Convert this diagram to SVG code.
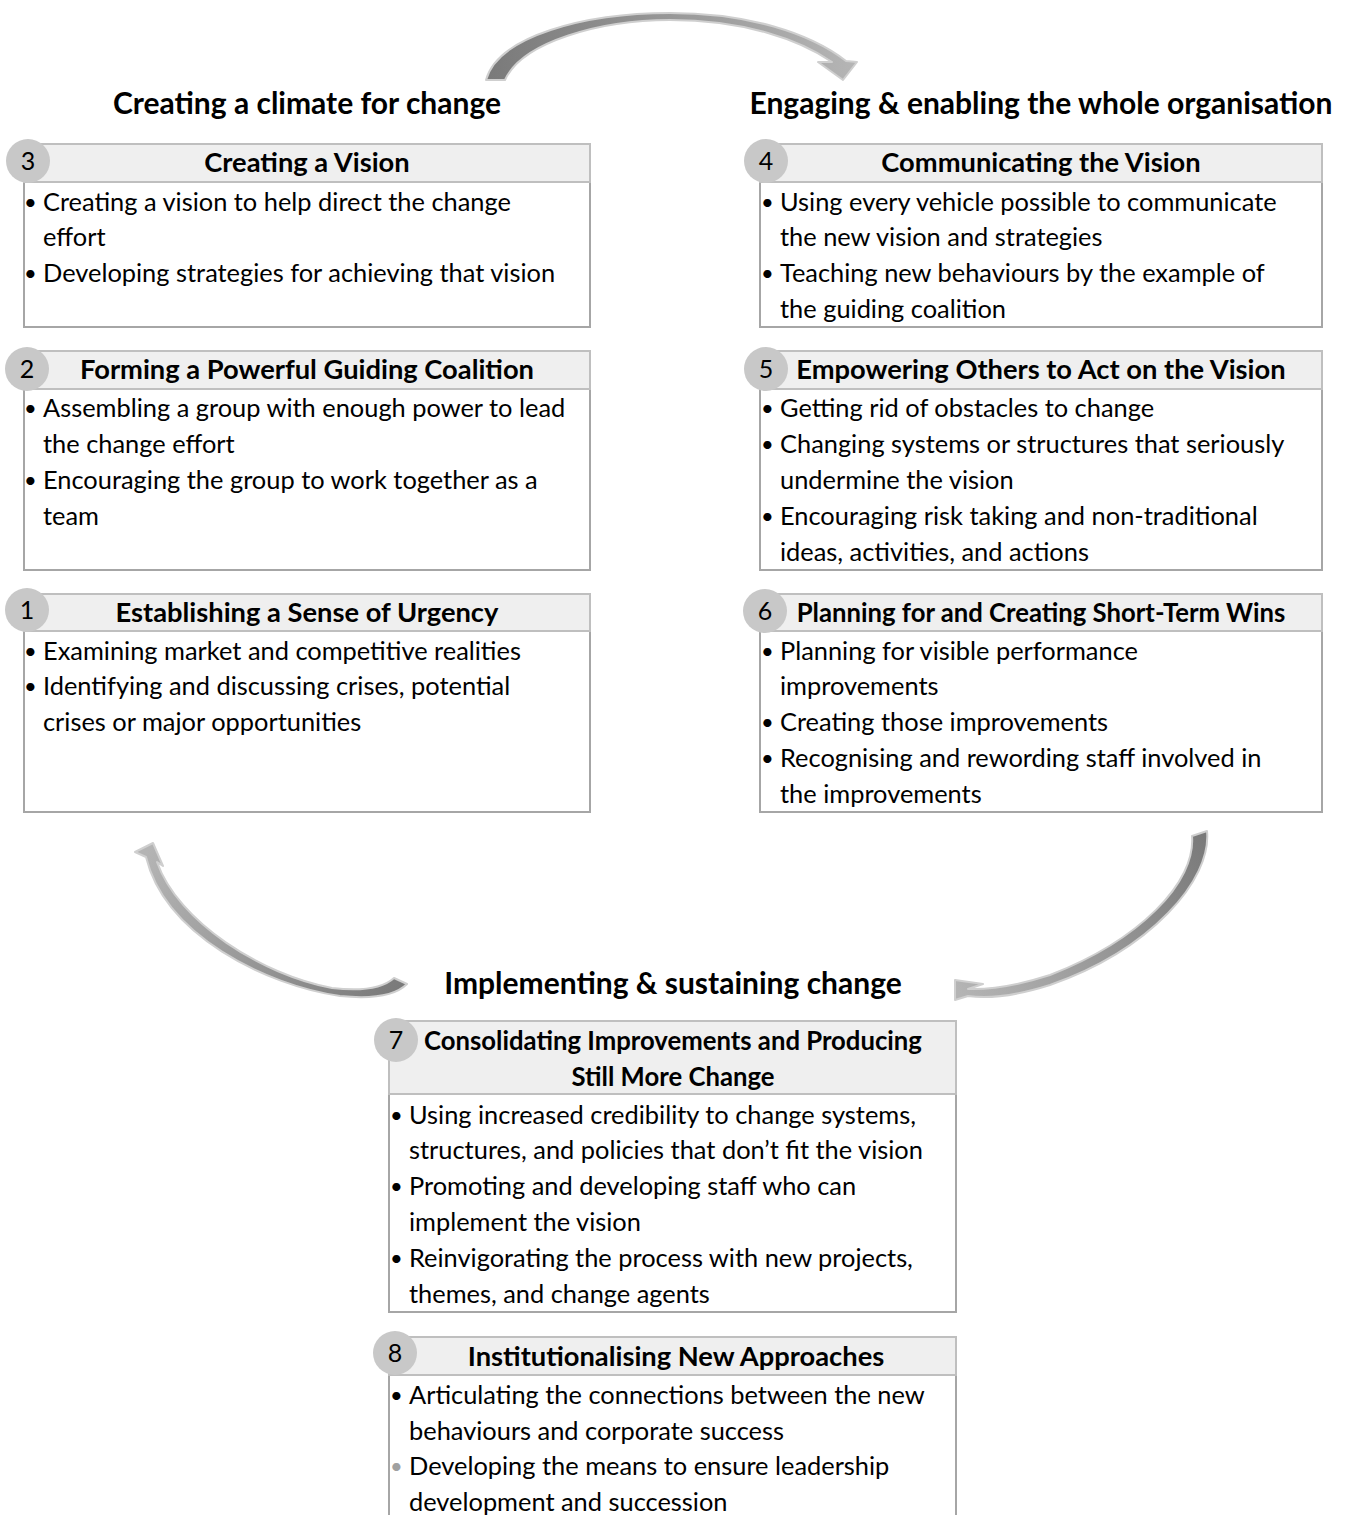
<svg xmlns="http://www.w3.org/2000/svg" width="1349" height="1515" viewBox="0 0 1349 1515">
  <defs>
    <style>
      .sec { font-family: Lato, "Open Sans", sans-serif; font-weight: bold; font-size: 30px; fill: #000; text-anchor: middle; }
      .hd { font-family: Lato, "Open Sans", sans-serif; font-weight: bold; font-size: 27.3px; fill: #000; text-anchor: middle; }
      .hdn { font-size: 25.7px; }
      .tx { font-family: Lato, "Open Sans", sans-serif; font-size: 25.4px; fill: #000; }
      .bu { font-family: Lato, "Open Sans", sans-serif; font-size: 22px; fill: #000; }
      .num { font-family: Lato, "Open Sans", sans-serif; font-size: 25px; fill: #000; text-anchor: middle; }
      .band { fill: #efefef; stroke: #bfbfbf; stroke-width: 2; }
      .body { fill: #fff; stroke: #a6a6a6; stroke-width: 2; }
      .badge { fill: #c8c8c8; }
      .arrow { stroke: #cfcfcf; stroke-width: 2; stroke-linejoin: round; }
      .dim { fill: #a0a0a0; }
    </style>
    <linearGradient id="gTop" gradientUnits="userSpaceOnUse" x1="490" y1="80" x2="850" y2="70">
      <stop offset="0" stop-color="#7a7a7a"/>
      <stop offset="1" stop-color="#b4b4b4"/>
    </linearGradient>
    <linearGradient id="gLeft" gradientUnits="userSpaceOnUse" x1="400" y1="985" x2="145" y2="855">
      <stop offset="0" stop-color="#7a7a7a"/>
      <stop offset="1" stop-color="#b4b4b4"/>
    </linearGradient>
    <linearGradient id="gRight" gradientUnits="userSpaceOnUse" x1="1200" y1="832" x2="958" y2="990">
      <stop offset="0" stop-color="#7a7a7a"/>
      <stop offset="1" stop-color="#b4b4b4"/>
    </linearGradient>
  </defs>

  <rect width="1349" height="1515" fill="#fff"/>

  <!-- curved block arrows linking the three stages -->
  <g id="connectors">
    <path class="arrow" fill="url(#gTop)" d="M486,80 C498,36 585,13 670,13 C748,13 810,33 846,61 L857,62 L843,80 L818,62 L832,62 C800,40 745,20 670,20 C600,20 522,42 505,80 Z"/>
    <path class="arrow" fill="url(#gLeft)" d="M407,984 C395,996 370,999 340,996 C265,985 165,935 146,857 L135,852 L153,843 L163,866 L157,862 C178,922 262,975 332,988 C358,991 382,989 394,978 Z"/>
    <path class="arrow" fill="url(#gRight)" d="M1207,831 C1212,880 1150,950 1050,985 C1012,997 988,999 968,996 L955,1000 L955,980 L983,984 L968,989 C992,990 1022,984 1050,975 C1140,940 1196,882 1192,836 Z"/>
  </g>

  <!-- stage headings -->
  <text class="sec" x="307" y="114">Creating a climate for change</text>
  <text class="sec" x="1041" y="114">Engaging &amp; enabling the whole organisation</text>
  <text class="sec" x="673" y="994">Implementing &amp; sustaining change</text>

  <!-- step 3 -->
  <g id="step3">
    <rect class="body" x="24" y="182" width="566" height="145"/>
    <rect class="band" x="24" y="144" width="566" height="38"/>
    <circle class="badge" cx="28" cy="161" r="22"/>
    <text class="num" x="28" y="170">3</text>
    <text class="hd" x="307" y="172">Creating a Vision</text>
    <text class="bu" x="24" y="210">•</text><text class="tx" x="43" y="211">Creating a vision to help direct the change</text>
    <text class="tx" x="43" y="246">effort</text>
    <text class="bu" x="24" y="281">•</text><text class="tx" x="43" y="282">Developing strategies for achieving that vision</text>
  </g>

  <!-- step 2 -->
  <g id="step2">
    <rect class="body" x="24" y="389" width="566" height="181"/>
    <rect class="band" x="24" y="351" width="566" height="38"/>
    <circle class="badge" cx="27" cy="369" r="22"/>
    <text class="num" x="27" y="378">2</text>
    <text class="hd" x="307" y="379">Forming a Powerful Guiding Coalition</text>
    <text class="bu" x="24" y="416">•</text><text class="tx" x="43" y="417">Assembling a group with enough power to lead</text>
    <text class="tx" x="43" y="453">the change effort</text>
    <text class="bu" x="24" y="488">•</text><text class="tx" x="43" y="489">Encouraging the group to work together as a</text>
    <text class="tx" x="43" y="525">team</text>
  </g>

  <!-- step 1 -->
  <g id="step1">
    <rect class="body" x="24" y="631" width="566" height="181"/>
    <rect class="band" x="24" y="594" width="566" height="37"/>
    <circle class="badge" cx="27" cy="610" r="22"/>
    <text class="num" x="27" y="619">1</text>
    <text class="hd" x="307" y="622">Establishing a Sense of Urgency</text>
    <text class="bu" x="24" y="659">•</text><text class="tx" x="43" y="660">Examining market and competitive realities</text>
    <text class="bu" x="24" y="694">•</text><text class="tx" x="43" y="695">Identifying and discussing crises, potential</text>
    <text class="tx" x="43" y="731">crises or major opportunities</text>
  </g>

  <!-- step 4 -->
  <g id="step4">
    <rect class="body" x="760" y="182" width="562" height="145"/>
    <rect class="band" x="760" y="144" width="562" height="38"/>
    <circle class="badge" cx="766" cy="161" r="22"/>
    <text class="num" x="766" y="170">4</text>
    <text class="hd" x="1041" y="172">Communicating the Vision</text>
    <text class="bu" x="761" y="210">•</text><text class="tx" x="780" y="211">Using every vehicle possible to communicate</text>
    <text class="tx" x="780" y="246">the new vision and strategies</text>
    <text class="bu" x="761" y="281">•</text><text class="tx" x="780" y="282">Teaching new behaviours by the example of</text>
    <text class="tx" x="780" y="318">the guiding coalition</text>
  </g>

  <!-- step 5 -->
  <g id="step5">
    <rect class="body" x="760" y="389" width="562" height="181"/>
    <rect class="band" x="760" y="351" width="562" height="38"/>
    <circle class="badge" cx="766" cy="369" r="22"/>
    <text class="num" x="766" y="378">5</text>
    <text class="hd" x="1041" y="379">Empowering Others to Act on the Vision</text>
    <text class="bu" x="761" y="416">•</text><text class="tx" x="780" y="417">Getting rid of obstacles to change</text>
    <text class="bu" x="761" y="452">•</text><text class="tx" x="780" y="453">Changing systems or structures that seriously</text>
    <text class="tx" x="780" y="489">undermine the vision</text>
    <text class="bu" x="761" y="524">•</text><text class="tx" x="780" y="525">Encouraging risk taking and non-traditional</text>
    <text class="tx" x="780" y="561">ideas, activities, and actions</text>
  </g>

  <!-- step 6 -->
  <g id="step6">
    <rect class="body" x="760" y="631" width="562" height="181"/>
    <rect class="band" x="760" y="594" width="562" height="37"/>
    <circle class="badge" cx="765" cy="611" r="22"/>
    <text class="num" x="765" y="620">6</text>
    <text class="hd hdn" x="1041" y="622">Planning for and Creating Short-Term Wins</text>
    <text class="bu" x="761" y="659">•</text><text class="tx" x="780" y="660">Planning for visible performance</text>
    <text class="tx" x="780" y="695">improvements</text>
    <text class="bu" x="761" y="730">•</text><text class="tx" x="780" y="731">Creating those improvements</text>
    <text class="bu" x="761" y="766">•</text><text class="tx" x="780" y="767">Recognising and rewording staff involved in</text>
    <text class="tx" x="780" y="803">the improvements</text>
  </g>

  <!-- step 7 -->
  <g id="step7">
    <rect class="body" x="389" y="1094" width="567" height="218"/>
    <rect class="band" x="389" y="1021" width="567" height="73"/>
    <circle class="badge" cx="396" cy="1040" r="22"/>
    <text class="num" x="396" y="1049">7</text>
    <text class="hd hdn" x="673" y="1050">Consolidating Improvements and Producing</text>
    <text class="hd hdn" x="673" y="1086">Still More Change</text>
    <text class="bu" x="390" y="1123">•</text><text class="tx" x="409" y="1124">Using increased credibility to change systems,</text>
    <text class="tx" x="409" y="1159">structures, and policies that don’t fit the vision</text>
    <text class="bu" x="390" y="1194">•</text><text class="tx" x="409" y="1195">Promoting and developing staff who can</text>
    <text class="tx" x="409" y="1231">implement the vision</text>
    <text class="bu" x="390" y="1266">•</text><text class="tx" x="409" y="1267">Reinvigorating the process with new projects,</text>
    <text class="tx" x="409" y="1303">themes, and change agents</text>
  </g>

  <!-- step 8 -->
  <g id="step8">
    <rect class="body" x="389" y="1375" width="567" height="160"/>
    <rect class="band" x="389" y="1337" width="567" height="38"/>
    <circle class="badge" cx="395" cy="1353" r="22"/>
    <text class="num" x="395" y="1362">8</text>
    <text class="hd" x="676" y="1366">Institutionalising New Approaches</text>
    <text class="bu" x="390" y="1403">•</text><text class="tx" x="409" y="1404">Articulating the connections between the new</text>
    <text class="tx" x="409" y="1440">behaviours and corporate success</text>
    <text class="bu dim" x="390" y="1474">•</text><text class="tx" x="409" y="1475">Developing the means to ensure leadership</text>
    <text class="tx" x="409" y="1511">development and succession</text>
  </g>
</svg>
